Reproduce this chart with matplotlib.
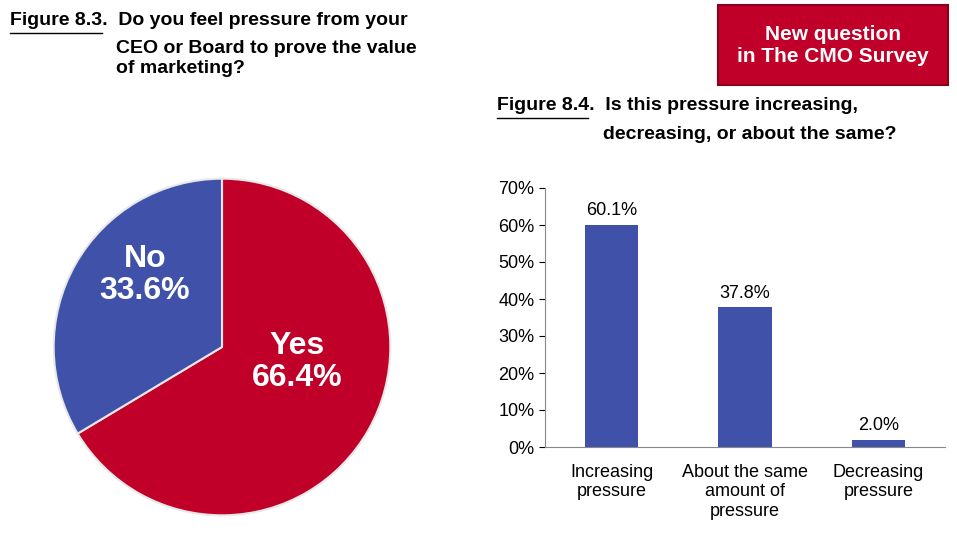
import matplotlib.pyplot as plt
from matplotlib.lines import Line2D
from matplotlib.patches import FancyBboxPatch

plt.rcParams['font.family'] = ['Liberation Sans', 'DejaVu Sans']

# pie data
pie_labels = ['Yes', 'No']
pie_values = [66.4, 33.6]
pie_colors = ['#C00029', '#3F51A8']

# bar data
bar_labels = ['Increasing\npressure', 'About the same\namount of\npressure', 'Decreasing\npressure']
bar_values = [60.1, 37.8, 2.0]

fig = plt.figure(figsize=(9.57, 5.44), dpi=100)
W, H = 957.0, 544.0

# Figure 8.3 pie
ax1 = plt.axes([52 / W, 1 - 517 / H, 340 / W, 340 / H])
plt.pie(pie_values, colors=pie_colors, startangle=90, counterclock=False,
        wedgeprops=dict(edgecolor='#E8E8E8', linewidth=1.5))
plt.xlim(-1.01, 1.01)
plt.ylim(-1.01, 1.01)
fig.text(145 / W, 1 - 275 / H, 'No\n' + f'{pie_values[1]:.1f}%', color='white', fontsize=23,
         fontweight='bold', ha='center', va='center', linespacing=1.1)
fig.text(297 / W, 1 - 362 / H, 'Yes\n' + f'{pie_values[0]:.1f}%', color='white', fontsize=23,
         fontweight='bold', ha='center', va='center', linespacing=1.1)

# Figure 8.4 bars
ax2 = plt.axes([545 / W, 1 - 447 / H, 400 / W, 259 / H])
x = range(len(bar_values))
plt.bar(x, bar_values, width=0.4, color='#3F51A8')
for i, v in enumerate(bar_values):
    plt.text(i, v + 1.5, f'{v:.1f}%', ha='center', va='bottom', fontsize=13)
plt.ylim(0, 70)
plt.xlim(-0.5, 2.5)
plt.yticks(range(0, 71, 10), [f'{t}%' for t in range(0, 71, 10)], fontsize=13)
plt.xticks(list(x), bar_labels, fontsize=13)
plt.tick_params(axis='x', length=0, pad=12)
plt.tick_params(axis='y', length=4, direction='out')
ax2.spines['top'].set_visible(False)
ax2.spines['right'].set_visible(False)
ax2.spines['left'].set_color('#888888')
ax2.spines['bottom'].set_color('#888888')

# titles
fig.text(10 / W, 1 - 12 / H, 'Figure 8.3.  Do you feel pressure from your', fontsize=14, fontweight='bold', va='top')
fig.add_artist(Line2D([10 / W, 102 / W], [1 - 33 / H, 1 - 33 / H], color='black', lw=1))
fig.text(116 / W, 1 - 40 / H, 'CEO or Board to prove the value\nof marketing?',
         fontsize=14, fontweight='bold', va='top', linespacing=1.2)
fig.text(497 / W, 1 - 97 / H, 'Figure 8.4.  Is this pressure increasing,', fontsize=14, fontweight='bold', va='top')
fig.add_artist(Line2D([497 / W, 588 / W], [1 - 118 / H, 1 - 118 / H], color='black', lw=1))
fig.text(603 / W, 1 - 126 / H, 'decreasing, or about the same?',
         fontsize=14, fontweight='bold', va='top')

# red box
fig.add_artist(FancyBboxPatch((718 / W, 1 - 85 / H), 230 / W, 80 / H, boxstyle='square,pad=0',
                              facecolor='#C00029', edgecolor='#8A0018', lw=1.5, transform=fig.transFigure))
fig.text(833 / W, 1 - 45 / H, 'New question\nin The CMO Survey', color='white', fontsize=15,
         fontweight='bold', ha='center', va='center', linespacing=1.2)

plt.savefig('out.png', dpi=100)
